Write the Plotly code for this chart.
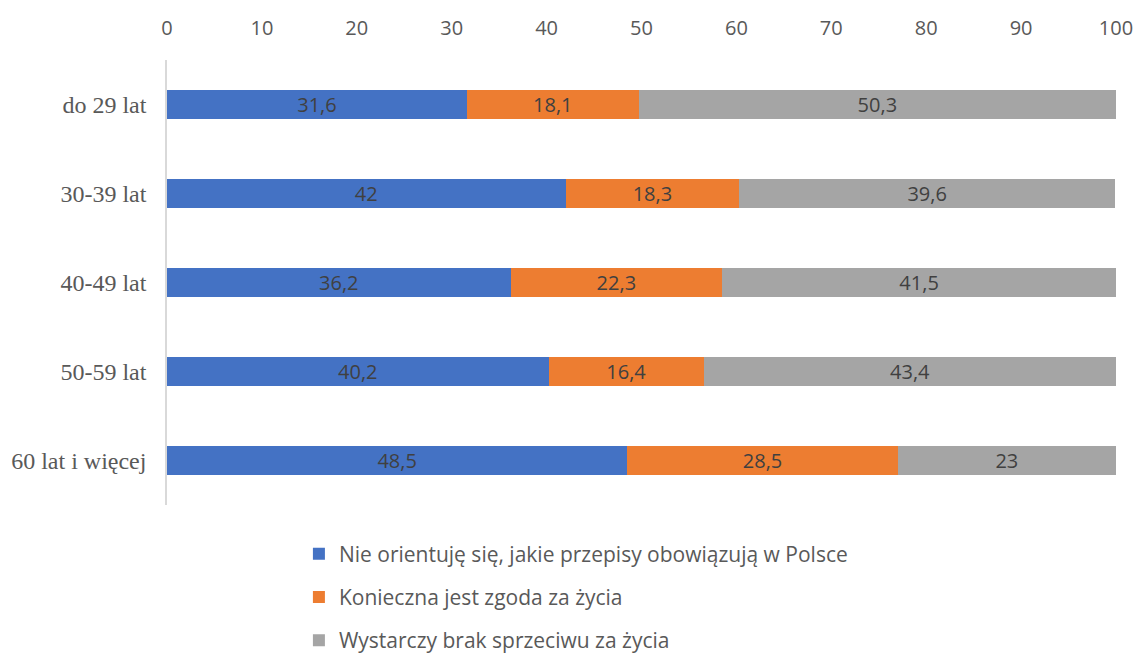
import plotly.graph_objects as go

categories = ["do 29 lat", "30-39 lat", "40-49 lat", "50-59 lat", "60 lat i więcej"]
series_names = [
    "Nie orientuję się, jakie przepisy obowiązują w Polsce",
    "Konieczna jest zgoda za życia",
    "Wystarczy brak sprzeciwu za życia",
]
nie_orientuje = [31.6, 42, 36.2, 40.2, 48.5]
zgoda = [18.1, 18.3, 22.3, 16.4, 28.5]
brak_sprzeciwu = [50.3, 39.6, 41.5, 43.4, 23]
tick_values = [0, 10, 20, 30, 40, 50, 60, 70, 80, 90, 100]

colors = ["#4472C4", "#ED7D31", "#A5A5A5"]


def pl(v):
    s = f"{v:g}"
    return s.replace(".", ",")


fig = go.Figure()
for i, (name, vals) in enumerate(zip(series_names, [nie_orientuje, zgoda, brak_sprzeciwu])):
    fig.add_trace(go.Bar(
        y=categories,
        x=vals,
        name=name,
        orientation="h",
        width=0.315,
        marker=dict(color=colors[i], line=dict(width=0)),
        text=[pl(v) for v in vals],
        textposition="inside",
        insidetextanchor="middle",
        constraintext="none",
        textangle=0,
        textfont=dict(family="Open Sans", size=20, color="#404040"),
        legendgroup=f"g{i}",
        hoverinfo="skip",
    ))

fig.update_layout(
    barmode="stack",
    width=1138,
    height=658,
    margin=dict(l=167, r=22, t=60, b=153, autoexpand=False),
    paper_bgcolor="white",
    plot_bgcolor="white",
    xaxis=dict(
        side="top",
        range=[0, 100],
        tickvals=tick_values,
        showgrid=False,
        zeroline=False,
        showline=False,
        ticks="",
        ticklabelstandoff=20,
        automargin=False,
        tickfont=dict(family="Open Sans", size=20, color="#595959"),
        fixedrange=True,
    ),
    yaxis=dict(
        autorange="reversed",
        showline=True,
        linecolor="#D9D9D9",
        linewidth=1.5,
        showgrid=False,
        zeroline=False,
        ticks="",
        ticklabelstandoff=14,
        automargin=False,
        tickfont=dict(family="Liberation Serif", size=24, color="#595959"),
    ),
    legend=dict(
        orientation="v",
        x=0.139,
        y=-0.064,
        xanchor="left",
        yanchor="top",
        traceorder="grouped",
        tracegroupgap=13,
        font=dict(family="Open Sans", size=21, color="#595959"),
        itemwidth=30,
    ),
    showlegend=True,
)

fig.write_html("out.html")
